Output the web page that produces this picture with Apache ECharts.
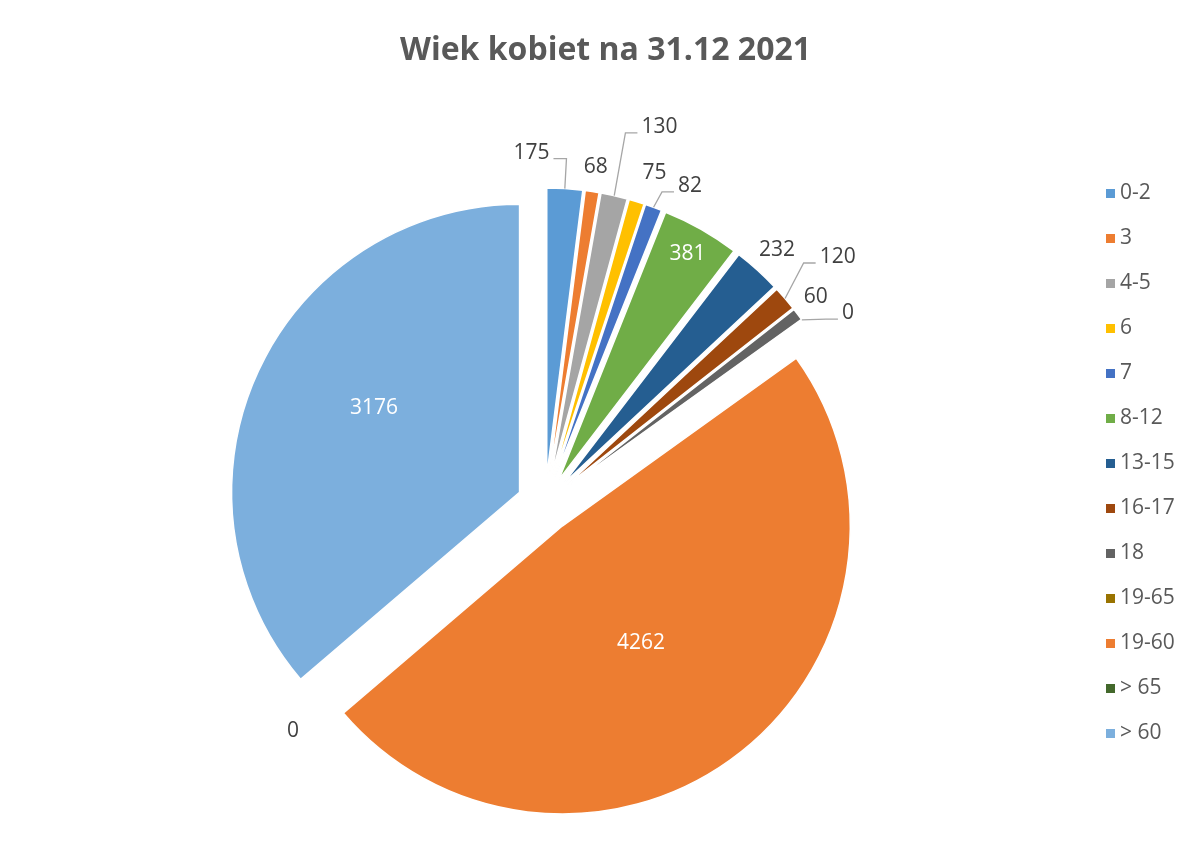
<!DOCTYPE html>
<html>
<head>
<meta charset="utf-8">
<script src="https://cdn.jsdelivr.net/npm/echarts@6/dist/echarts.min.js"></script>
<style>
html,body{margin:0;padding:0;background:#fff;}
#chart{width:1200px;height:841px;}
</style>
</head>
<body>
<div id="chart"></div>
<script>
var categories = ['0-2','3','4-5','6','7','8-12','13-15','16-17','18','19-65','19-60','> 65','> 60'];
var values = [175,68,130,75,82,381,232,120,60,0,4262,0,3176];
var colors = ['#5B9BD5','#ED7D31','#A5A5A5','#FFC000','#4472C4','#70AD47','#255E91','#9E480E','#636363','#997300','#ED7D31','#43682B','#7CAFDD'];
var insideLabels = ['8-12','19-60','> 60'];
var lineLabels = ['0-2','4-5','7','16-17','19-65'];
// label nudges (style only): offset from the library's default label anchor
var labelNudge = {
  '0-2': [-67, -26], '3': [-25, -15], '4-5': [10, -59], '6': [-12, -19], '7': [6, -12],
  '8-12': [56, -98], '13-15': [-20, -12], '16-17': [12, -35], '18': [-17, -11],
  '19-65': [17, -1], '19-60': [-12, 1], '> 65': [17, 15], '> 60': [-12, -23]
};

var FONT = 'Open Sans';
var CENTER = [545, 504];
var RADIUS = 288;
var EXPLODE = 28;

var sliceData = categories.map(function(c, i){
  return {name: c, value: values[i], selected: true, itemStyle: {color: colors[i]}};
});
var labelData = categories.map(function(c, i){
  var item = {name: c, value: values[i]};
  if (insideLabels.indexOf(c) >= 0) {
    item.label = {position: 'inside', color: '#ffffff'};
    item.labelLine = {show: false};
  } else if (lineLabels.indexOf(c) < 0) {
    item.labelLine = {show: false};
  }
  return item;
});

var chart = echarts.init(document.getElementById('chart'));
chart.setOption({
  animation: false,
  backgroundColor: '#ffffff',
  title: {
    text: 'Wiek kobiet na 31.12 2021',
    left: 395, top: 30,
    textStyle: {fontFamily: FONT, fontSize: 32, fontWeight: 'bold', color: '#595959'}
  },
  legend: {
    orient: 'vertical',
    left: 1101, top: 178,
    itemWidth: 9, itemHeight: 9, itemGap: 24,
    icon: 'rect',
    selectedMode: false,
    data: categories,
    itemStyle: {borderWidth: 0},
    textStyle: {fontFamily: FONT, fontSize: 21, color: '#595959'}
  },
  series: [{
    type: 'pie',
    name: 'slices',
    center: CENTER,
    radius: RADIUS,
    startAngle: 90,
    clockwise: true,
    selectedMode: 'multiple',
    selectedOffset: EXPLODE,
    itemStyle: {borderColor: '#ffffff', borderWidth: 1.5},
    label: {show: false},
    labelLine: {show: false},
    emphasis: {disabled: true},
    data: sliceData
  }, {
    type: 'pie',
    name: 'labels',
    center: CENTER,
    radius: RADIUS,
    startAngle: 90,
    clockwise: true,
    selectedMode: false,
    silent: true,
    z: 5,
    avoidLabelOverlap: false,
    itemStyle: {color: 'rgba(0,0,0,0)', borderWidth: 0},
    label: {
      show: true,
      position: 'outside',
      formatter: '{c}',
      fontFamily: FONT, fontSize: 21, color: '#404040'
    },
    labelLine: {show: true, length: 10 + EXPLODE, length2: 10, lineStyle: {color: '#A6A6A6', width: 1.3}},
    labelLayout: function (p) {
      var c = categories[p.dataIndex];
      var n = (labelNudge[c] || [0, 0]).slice();
      var r = p.labelRect;
      var ax = r.x + (p.align === 'left' ? 0 : (p.align === 'right' ? r.width : r.width / 2));
      var ay = r.y + r.height / 2;
      if (insideLabels.indexOf(c) >= 0) {
        var vx = ax - CENTER[0], vy = ay - CENTER[1];
        var len = Math.sqrt(vx * vx + vy * vy) || 1;
        n[0] += EXPLODE * vx / len;
        n[1] += EXPLODE * vy / len;
      }
      var nx = ax + n[0], ny = ay + n[1];
      var out = {x: nx, y: ny};
      var pts = p.labelLinePoints;
      if (lineLabels.indexOf(c) >= 0 && pts && pts.length >= 2) {
        var dx = pts[1][0] - pts[0][0], dy = pts[1][1] - pts[0][1];
        var l = Math.sqrt(dx * dx + dy * dy) || 1;
        var p0 = [pts[0][0] + EXPLODE * dx / l, pts[0][1] + EXPLODE * dy / l];
        var left = p.align === 'left' ? nx : (p.align === 'right' ? nx - r.width : nx - r.width / 2);
        var right = left + r.width;
        var yy = ny + 6;
        var p1, p2;
        if (p0[0] > right) {
          p2 = [right + 4, yy]; p1 = [right + 17, yy];
        } else {
          p2 = [left - 4, yy]; p1 = [left - 16, yy];
        }
        out.labelLinePoints = [p0, p1, p2];
      }
      return out;
    },
    emphasis: {disabled: true},
    data: labelData
  }]
});
</script>
</body>
</html>
